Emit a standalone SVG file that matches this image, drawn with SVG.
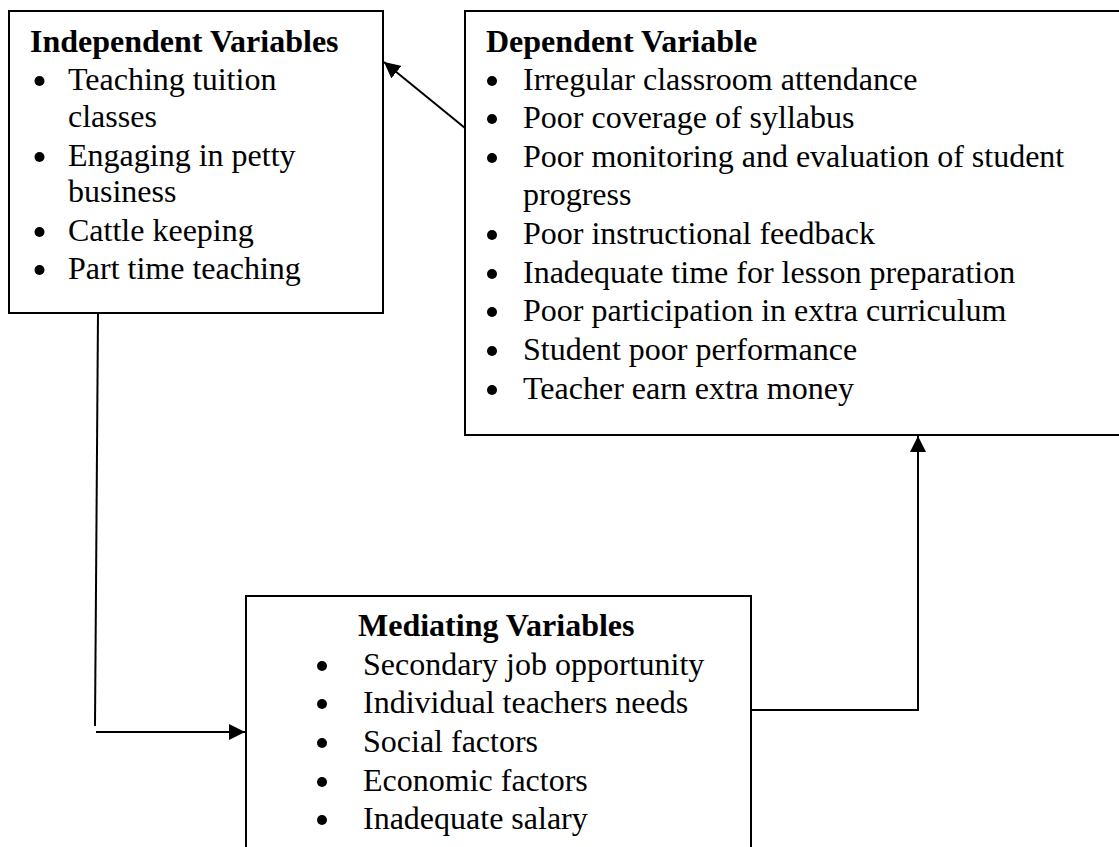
<svg xmlns="http://www.w3.org/2000/svg" width="1119" height="847" viewBox="0 0 1119 847">
  <style>
    .box { fill: #fff; stroke: #000; stroke-width: 2; }
    .title { font-family: "Liberation Serif", "Times New Roman", serif; font-size: 32px; font-weight: bold; fill: #000; }
    .item { font-family: "Liberation Serif", "Times New Roman", serif; font-size: 32px; fill: #000; }
    .dot { fill: #000; }
    .link { fill: none; stroke: #000; stroke-width: 2; }
  </style>
  <defs>
    <marker id="arrow" markerUnits="userSpaceOnUse" markerWidth="17" markerHeight="16" refX="16" refY="8" orient="auto">
      <path d="M0,0 L16,8 L0,16 Z" fill="#000"/>
    </marker>
  </defs>
  <rect width="1119" height="847" fill="#fff"/>

  <!-- Independent variables -->
  <g id="independent">
    <rect class="box" x="9" y="11" width="374" height="302"/>
    <text class="title" x="30" y="52">Independent Variables</text>
    <circle class="dot" cx="39.5" cy="81" r="5"/>
    <text class="item" x="68" y="90">Teaching tuition</text>
    <text class="item" x="68" y="127">classes</text>
    <circle class="dot" cx="39.5" cy="157" r="5"/>
    <text class="item" x="68" y="166">Engaging in petty</text>
    <text class="item" x="68" y="202">business</text>
    <circle class="dot" cx="39.5" cy="232" r="5"/>
    <text class="item" x="68" y="241">Cattle keeping</text>
    <circle class="dot" cx="39.5" cy="270" r="5"/>
    <text class="item" x="68" y="279">Part time teaching</text>
  </g>

  <!-- Dependent variable (runs off the right edge) -->
  <g id="dependent">
    <path class="box" d="M1125,11 H465 V435 H1125"/>
    <text class="title" x="486" y="52">Dependent Variable</text>
    <circle class="dot" cx="492" cy="81" r="5"/>
    <text class="item" x="523" y="90">Irregular classroom attendance</text>
    <circle class="dot" cx="492" cy="119" r="5"/>
    <text class="item" x="523" y="128">Poor coverage of syllabus</text>
    <circle class="dot" cx="492" cy="158" r="5"/>
    <text class="item" x="523" y="167">Poor monitoring and evaluation of student</text>
    <text class="item" x="523" y="205">progress</text>
    <circle class="dot" cx="492" cy="235" r="5"/>
    <text class="item" x="523" y="244">Poor instructional feedback</text>
    <circle class="dot" cx="492" cy="274" r="5"/>
    <text class="item" x="523" y="283">Inadequate time for lesson preparation</text>
    <circle class="dot" cx="492" cy="312" r="5"/>
    <text class="item" x="523" y="321">Poor participation in extra curriculum</text>
    <circle class="dot" cx="492" cy="351" r="5"/>
    <text class="item" x="523" y="360">Student poor performance</text>
    <circle class="dot" cx="492" cy="390" r="5"/>
    <text class="item" x="523" y="399">Teacher earn extra money</text>
  </g>

  <!-- Mediating variables (runs off the bottom edge) -->
  <g id="mediating">
    <rect class="box" x="246" y="596" width="505" height="260"/>
    <text class="title" x="358" y="636">Mediating Variables</text>
    <circle class="dot" cx="322" cy="666" r="5"/>
    <text class="item" x="363" y="675">Secondary job opportunity</text>
    <circle class="dot" cx="322" cy="704" r="5"/>
    <text class="item" x="363" y="713">Individual teachers needs</text>
    <circle class="dot" cx="322" cy="743" r="5"/>
    <text class="item" x="363" y="752">Social factors</text>
    <circle class="dot" cx="322" cy="782" r="5"/>
    <text class="item" x="363" y="791">Economic factors</text>
    <circle class="dot" cx="322" cy="820" r="5"/>
    <text class="item" x="363" y="829">Inadequate salary</text>
  </g>

  <!-- Connectors -->
  <g id="connectors">
    <line class="link" x1="465" y1="128" x2="384" y2="62" marker-end="url(#arrow)"/>
    <line class="link" x1="98" y1="313" x2="95" y2="726" stroke-width="1.6"/>
    <line class="link" x1="96" y1="732" x2="245" y2="732" stroke-width="2.5" marker-end="url(#arrow)"/>
    <polyline class="link" points="752,710 918,710 918,436" marker-end="url(#arrow)"/>
  </g>
</svg>
